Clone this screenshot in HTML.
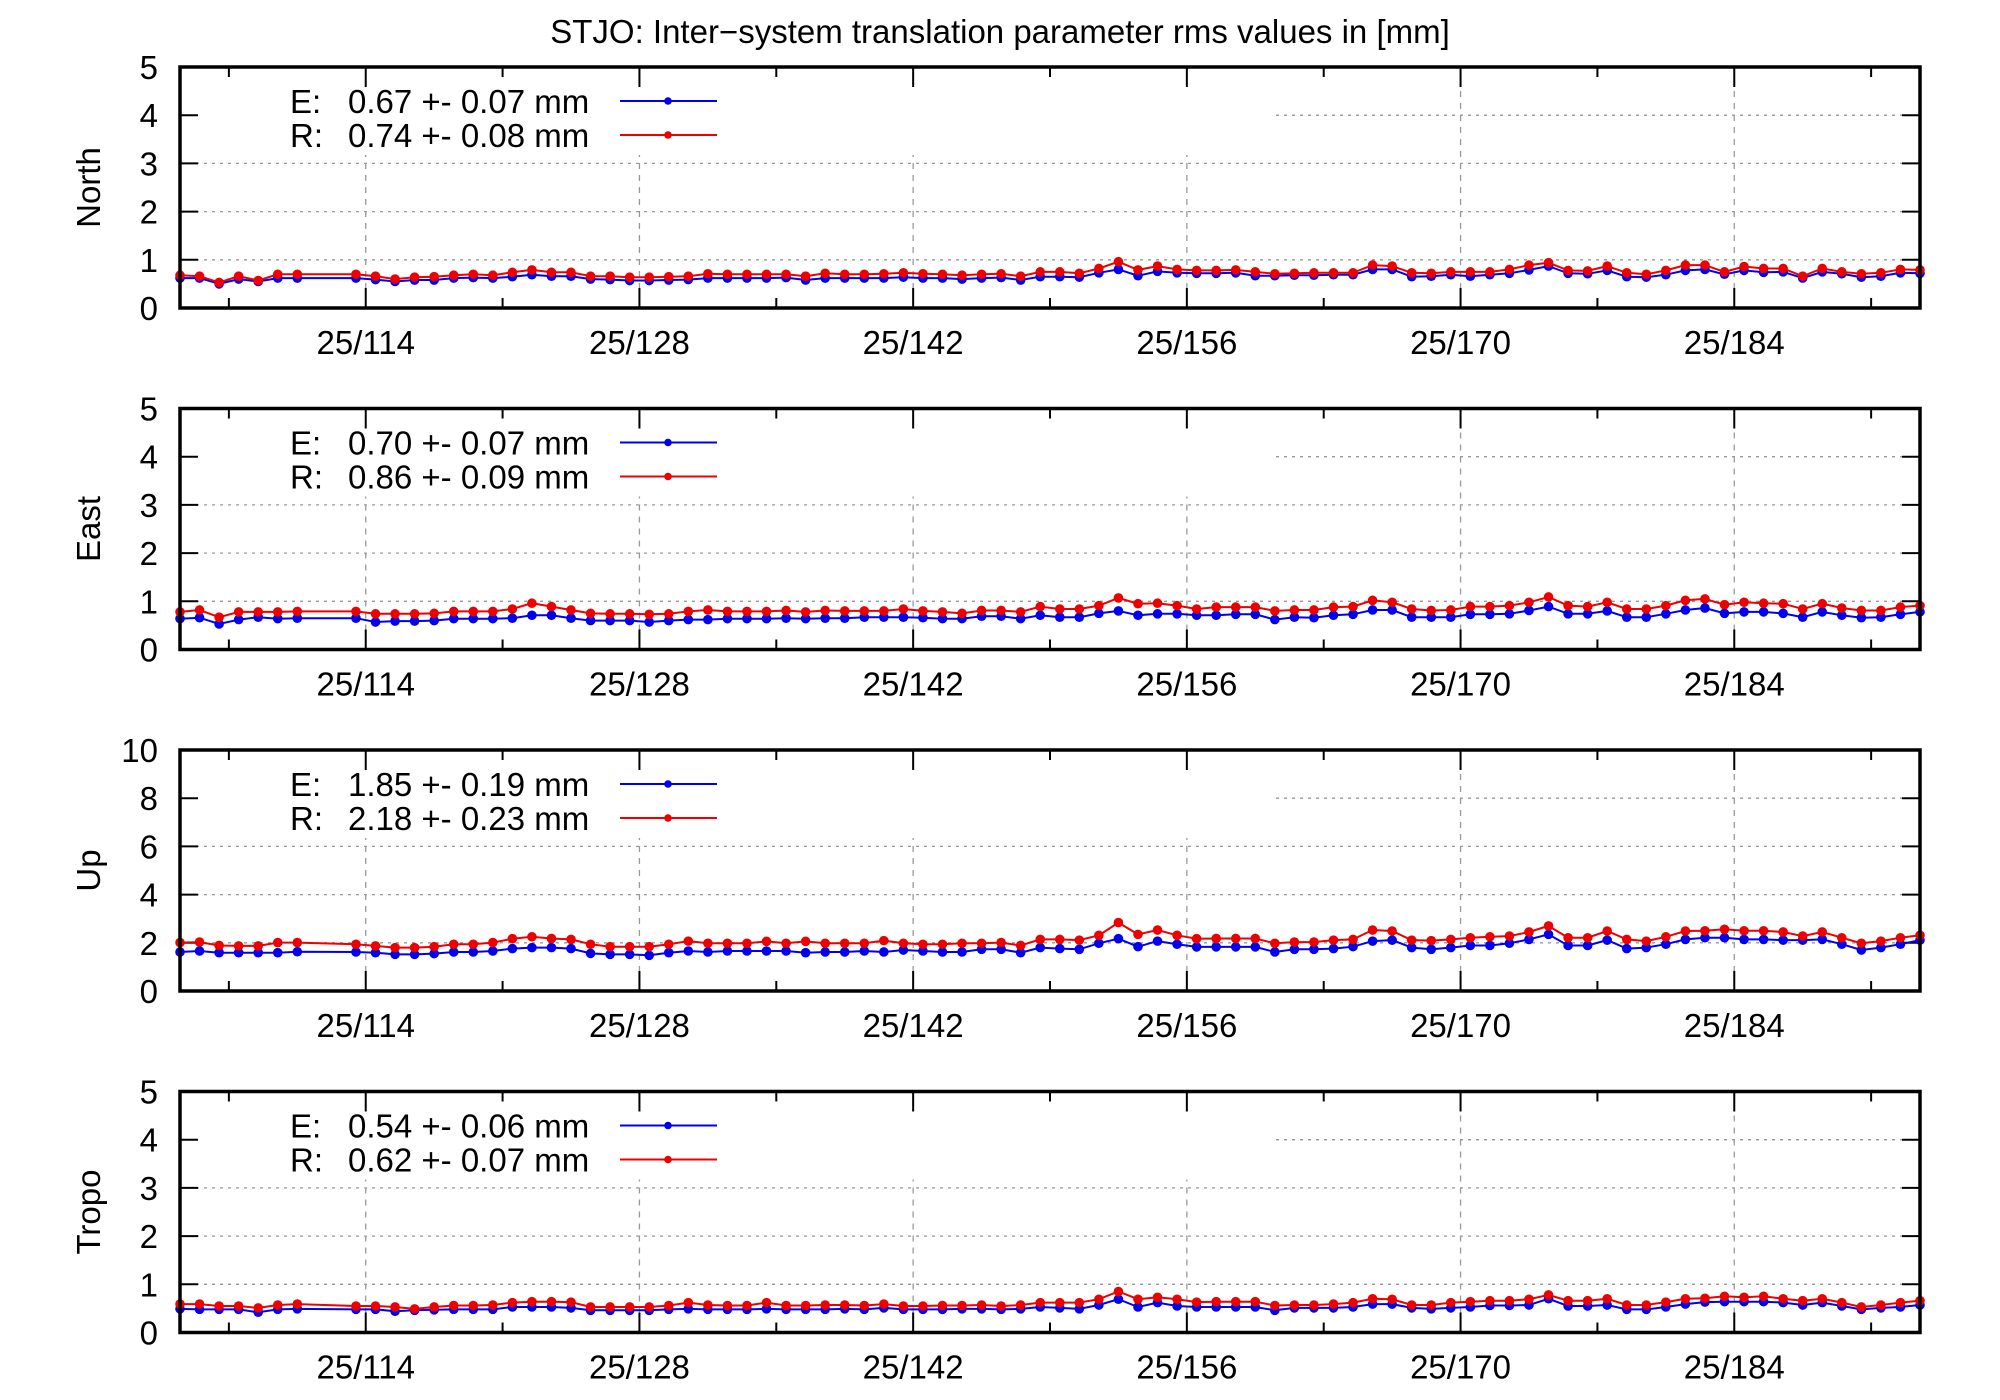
<!DOCTYPE html>
<html><head><meta charset="utf-8"><style>
html,body{margin:0;padding:0;background:#fff}
svg{display:block}
text{font-family:"Liberation Sans",sans-serif;fill:#000}
</style></head><body>
<svg id="chart" width="2000" height="1400" viewBox="0 0 2000 1400" xmlns="http://www.w3.org/2000/svg">
<rect width="2000" height="1400" fill="#fff"/>
<text x="1000" y="43" font-size="33" text-anchor="middle">STJO: Inter−system translation parameter rms values in [mm]</text>
<g id="panels"></g>
</svg>
<script>
const days = [104.5,105.5,106.5,107.5,108.5,109.5,110.5,
113.5,114.5,115.5,116.5,117.5,118.5,119.5,120.5,121.5,122.5,123.5,124.5,125.5,126.5,127.5,128.5,129.5,130.5,131.5,132.5,133.5,134.5,
135.5,136.5,137.5,138.5,139.5,140.5,141.5,142.5,143.5,144.5,145.5,146.5,147.5,148.5,149.5,150.5,151.5,152.5,153.5,154.5,155.5,156.5,157.5,158.5,159.5,160.5,161.5,162.5,163.5,
164.5,165.5,166.5,167.5,168.5,169.5,170.5,171.5,172.5,173.5,174.5,175.5,176.5,177.5,178.5,179.5,180.5,181.5,182.5,183.5,184.5,185.5,186.5,187.5,188.5,189.5,190.5,191.5,192.5,193.5];
const majorTicks = [114,128,142,156,170,184];
const minorTicks = [107,121,135,149,163,177,191];
const panelNames = ["North","East","Up","Tropo"];
const yMaxes = [5,5,10,5];
const yTickSteps = [1,1,2,1];
const legendE = ["0.67 +- 0.07 mm","0.70 +- 0.07 mm","1.85 +- 0.19 mm","0.54 +- 0.06 mm"];
const legendR = ["0.74 +- 0.08 mm","0.86 +- 0.09 mm","2.18 +- 0.23 mm","0.62 +- 0.07 mm"];

const northE = [.62,.62,.50,.60,.55,.62,.62,
.62,.59,.55,.58,.58,.62,.63,.62,.65,.69,.66,.66,.60,.59,.57,.57,.58,.59,.62,.62,.62,.62,
.63,.58,.62,.62,.62,.62,.64,.62,.62,.60,.62,.63,.58,.65,.65,.64,.73,.80,.67,.76,.73,.72,.72,.73,.67,.67,.68,.68,.69,
.69,.80,.80,.65,.66,.69,.66,.69,.72,.79,.87,.72,.71,.78,.65,.64,.69,.78,.80,.70,.78,.74,.75,.62,.75,.71,.64,.66,.73,.72];
const northR = [.68,.66,.53,.66,.57,.70,.70,
.70,.66,.60,.64,.65,.68,.70,.68,.74,.79,.74,.74,.66,.66,.64,.64,.65,.66,.71,.70,.70,.70,
.70,.66,.72,.70,.70,.71,.73,.71,.70,.68,.70,.71,.66,.75,.75,.72,.82,.96,.79,.87,.80,.78,.78,.79,.75,.71,.72,.73,.73,
.73,.89,.87,.73,.72,.75,.75,.75,.80,.89,.94,.78,.77,.87,.73,.70,.78,.89,.89,.75,.86,.82,.82,.66,.82,.75,.71,.73,.80,.79];
const eastE = [.64,.66,.53,.62,.67,.64,.65,
.65,.57,.59,.59,.60,.64,.64,.64,.65,.71,.71,.65,.60,.60,.60,.57,.60,.62,.62,.64,.64,.64,.65,.64,.65,.65,.67,.67,.67,.66,.64,.64,.69,.69,.64,.71,
.67,.67,.75,.80,.71,.74,.74,.71,.71,.73,.73,.62,.67,.66,.71,.73,.82,.82,.67,.67,.67,.73,.73,.74,.81,.89,.74,.74,.80,.67,.67,.74,.82,.86,.75,.78,.78,.75,.67,.78,.71,.66,.67,.73,.78];
const eastR = [.78,.82,.67,.78,.78,.78,.79,
.79,.74,.74,.74,.75,.79,.79,.79,.84,.96,.89,.82,.75,.74,.74,.73,.74,.79,.82,.79,.79,.79,.81,.78,.81,.80,.80,.80,.84,.80,.78,.75,.81,.81,.78,.89,
.84,.84,.91,1.07,.95,.96,.91,.84,.88,.88,.88,.80,.82,.82,.88,.89,1.02,.98,.84,.81,.82,.89,.89,.91,.98,1.09,.91,.89,.98,.84,.84,.91,1.02,1.05,.93,.98,.96,.95,.84,.95,.86,.81,.81,.88,.91];
const upE = [1.62,1.66,1.59,1.59,1.59,1.59,1.63,
1.62,1.59,1.52,1.52,1.55,1.62,1.62,1.66,1.76,1.80,1.80,1.76,1.56,1.52,1.52,1.48,1.59,1.66,1.62,1.66,1.66,1.66,1.66,1.59,1.62,1.62,1.66,1.62,1.70,1.66,1.62,1.62,1.73,1.73,1.59,1.80,
1.76,1.73,1.98,2.17,1.84,2.07,1.94,1.83,1.83,1.83,1.83,1.62,1.73,1.73,1.76,1.84,2.07,2.11,1.80,1.73,1.80,1.89,1.89,1.98,2.14,2.35,1.89,1.89,2.11,1.76,1.80,1.94,2.14,2.21,2.21,2.14,2.14,2.11,2.11,2.14,1.94,1.70,1.80,1.94,2.11];
const upR = [2.01,2.03,1.89,1.87,1.87,2.01,2.01,
1.94,1.87,1.80,1.80,1.84,1.94,1.94,2.01,2.17,2.25,2.18,2.14,1.94,1.84,1.84,1.84,1.94,2.07,1.98,1.98,1.98,2.06,1.98,2.06,1.98,1.98,1.98,2.09,1.98,1.94,1.94,1.98,1.98,2.01,1.89,2.14,
2.14,2.11,2.31,2.84,2.35,2.53,2.31,2.17,2.18,2.18,2.18,1.98,2.03,2.03,2.11,2.14,2.53,2.49,2.11,2.09,2.14,2.21,2.25,2.28,2.45,2.70,2.21,2.21,2.49,2.14,2.07,2.25,2.49,2.50,2.56,2.50,2.50,2.45,2.28,2.45,2.21,1.98,2.07,2.21,2.31];
const tropoE = [.49,.48,.48,.48,.42,.48,.49,
.48,.48,.44,.46,.47,.48,.48,.48,.53,.53,.53,.51,.46,.46,.46,.46,.48,.49,.48,.48,.48,.49,.48,.48,.48,.49,.48,.51,.48,.48,.48,.49,.49,.48,.49,.53,
.51,.49,.57,.69,.53,.62,.55,.53,.53,.53,.53,.46,.51,.51,.51,.53,.59,.59,.51,.49,.51,.53,.56,.56,.57,.70,.55,.55,.57,.48,.48,.53,.59,.63,.64,.64,.64,.62,.57,.62,.55,.48,.51,.53,.57];
const tropoR = [.59,.59,.55,.55,.51,.57,.59,
.55,.55,.53,.49,.53,.56,.56,.57,.62,.64,.64,.63,.53,.53,.53,.53,.56,.62,.57,.56,.56,.62,.56,.56,.57,.57,.56,.59,.55,.55,.56,.56,.57,.55,.57,.62,
.62,.62,.69,.85,.69,.73,.69,.63,.64,.64,.64,.56,.57,.57,.59,.62,.70,.69,.57,.57,.62,.64,.66,.66,.69,.78,.66,.66,.70,.57,.57,.63,.70,.71,.75,.73,.75,.70,.66,.70,.62,.53,.57,.62,.66];

const seriesE = [northE,eastE,upE,tropoE];
const seriesR = [northR,eastR,upR,tropoR];

const NS="http://www.w3.org/2000/svg";
const L=180,R=1920,H=241;
const tops=[67,408.5,750,1091.5];
const X0=104.5,X1=193.5;
function xs(d){return L+(d-X0)/(X1-X0)*(R-L);}
function mk(tag,attrs,parent){const e=document.createElementNS(NS,tag);for(const k in attrs)e.setAttribute(k,attrs[k]);parent.appendChild(e);return e;}
const root=document.getElementById('panels');

panelNames.forEach((name,p)=>{
  const top=tops[p],bot=top+H,ymax=yMaxes[p];
  const ys=v=>bot-v/ymax*H;
  const g=mk('g',{},root);
  
  
  const grid=mk('g',{stroke:'#999','stroke-width':1.3},g);
  
  
  for(let v=yTickSteps[p];v<ymax;v+=yTickSteps[p]){
    const l=mk('line',{x1:L,x2:R,y1:ys(v),y2:ys(v),'stroke-dasharray':'3,5'},grid);
    
    
  }
  majorTicks.forEach(t=>{
    const l=mk('line',{x1:xs(t),x2:xs(t),y1:top,y2:bot,'stroke-dasharray':'6,6'},grid);
    
    
  });
  const lm=mk('rect',{x:L+2,y:top+2,width:1094,height:86,fill:'#fff'},g);
  
  
  const tk=mk('g',{stroke:'#000','stroke-width':2},g);
  
  
  for(let v=0;v<=ymax;v+=yTickSteps[p]){
    mk('line',{x1:L,x2:L+18,y1:ys(v),y2:ys(v)},tk);
    mk('line',{x1:R-18,x2:R,y1:ys(v),y2:ys(v)},tk);
    const t=mk('text',{x:158,y:ys(v)+12,'font-size':33,'text-anchor':'end'},g);
    t.textContent=v;
    
    
  }
  majorTicks.forEach(d=>{
    mk('line',{x1:xs(d),x2:xs(d),y1:bot,y2:bot-20},tk);
    mk('line',{x1:xs(d),x2:xs(d),y1:top,y2:top+20},tk);
    const t=mk('text',{x:xs(d),y:bot+46,'font-size':33,'text-anchor':'middle'},g);
    t.textContent='25/'+d;
    
    
  });
  minorTicks.forEach(d=>{
    mk('line',{x1:xs(d),x2:xs(d),y1:bot,y2:bot-10},tk);
    mk('line',{x1:xs(d),x2:xs(d),y1:top,y2:top+10},tk);
  });
  const cy=top+H/2;
  const yt=mk('text',{x:88,y:cy,'font-size':33,'text-anchor':'middle',transform:`rotate(-90 88 ${cy}) translate(0 12)`},g);
  yt.textContent=name;
  
  
  [[seriesE[p],'#0000ee','e'],[seriesR[p],'#ee0000','r']].forEach(([vals,col,k])=>{
    const sg=mk('g',{},g);
    
    
    const pts=vals.map((v,i)=>xs(days[i]).toFixed(1)+','+ys(v).toFixed(1)).join(' ');
    const pl=mk('polyline',{points:pts,fill:'none',stroke:col,'stroke-width':2},sg);
    
    
    vals.forEach((v,i)=>{
      const c=mk('circle',{cx:xs(days[i]),cy:ys(v),r:4.8,fill:col},sg);
      
      
    });
  });
  [[ 'E:',legendE[p],'#0000ee',46,34],['R:',legendR[p],'#ee0000',80,68]].forEach(([lab,txt,col,by,ly])=>{
    const lg=mk('g',{},g);
    
    
    const a=mk('text',{x:290,y:top+by,'font-size':33},lg); a.textContent=lab;
    const b=mk('text',{x:348,y:top+by,'font-size':33},lg); b.textContent=txt;
    mk('line',{x1:620,x2:717,y1:top+ly,y2:top+ly,stroke:col,'stroke-width':2},lg);
    mk('circle',{cx:668,cy:top+ly,r:3.8,fill:col},lg);
  });
  const fr=mk('rect',{x:L,y:top,width:R-L,height:H,fill:'none',stroke:'#000','stroke-width':3.5},g);
  
  
});
</script>
</body></html>
